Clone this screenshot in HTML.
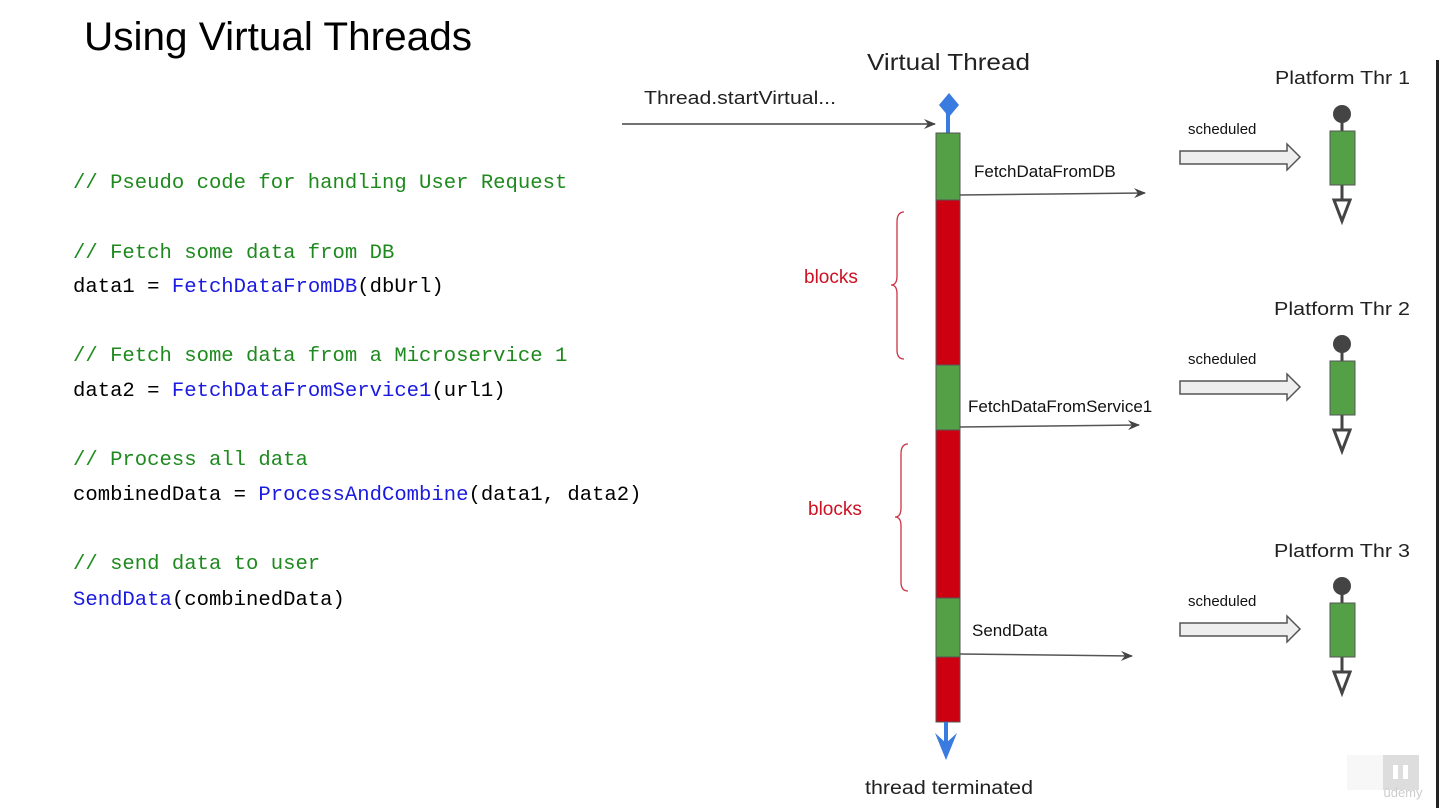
<!DOCTYPE html>
<html><head><meta charset="utf-8"><style>
html,body{margin:0;padding:0;background:#fff;width:1439px;height:808px;overflow:hidden}
</style></head><body>
<svg width="1439" height="808" xmlns="http://www.w3.org/2000/svg" font-family="Liberation Sans, sans-serif">
<defs>
<marker id="ah" markerWidth="12" markerHeight="10" refX="11" refY="5" orient="auto" markerUnits="userSpaceOnUse">
<path d="M0,0 L12,5 L0,10 L4,5 Z" fill="#444"/></marker>
</defs>
<rect x="1436" y="60" width="3" height="748" fill="#222"/>
<text x="84" y="50" font-size="40" fill="#000" textLength="388" lengthAdjust="spacingAndGlyphs">Using Virtual Threads</text>
<g font-family="Liberation Mono, monospace" font-size="20.6">
<text x="73" y="188" fill="#1e8a1e">// Pseudo code for handling User Request</text>
<text x="73" y="258" fill="#1e8a1e">// Fetch some data from DB</text>
<text x="73" y="292" fill="#000">data1 = <tspan fill="#1a1ae0">FetchDataFromDB</tspan>(dbUrl)</text>
<text x="73" y="361" fill="#1e8a1e">// Fetch some data from a Microservice 1</text>
<text x="73" y="396" fill="#000">data2 = <tspan fill="#1a1ae0">FetchDataFromService1</tspan>(url1)</text>
<text x="73" y="465" fill="#1e8a1e">// Process all data</text>
<text x="73" y="500" fill="#000">combinedData = <tspan fill="#1a1ae0">ProcessAndCombine</tspan>(data1, data2)</text>
<text x="73" y="569" fill="#1e8a1e">// send data to user</text>
<text x="73" y="605" fill="#000"><tspan fill="#1a1ae0">SendData</tspan>(combinedData)</text>
</g>
<text x="867" y="70" font-size="23" fill="#222" textLength="163" lengthAdjust="spacingAndGlyphs">Virtual Thread</text>
<text x="644" y="104" font-size="18" fill="#222" textLength="192" lengthAdjust="spacingAndGlyphs">Thread.startVirtual...</text>
<line x1="622" y1="124" x2="935" y2="124" stroke="#444" stroke-width="1.5" marker-end="url(#ah)"/>
<line x1="948" y1="110" x2="948" y2="133" stroke="#3a7be0" stroke-width="4"/>
<path d="M949,93 L959,105 L949,117 L939,105 Z" fill="#3a7be0"/>
<g stroke="#555" stroke-width="1">
<rect x="936" y="133" width="24" height="67" fill="#53a047"/>
<rect x="936" y="200" width="24" height="165" fill="#cc0011"/>
<rect x="936" y="365" width="24" height="65" fill="#53a047"/>
<rect x="936" y="430" width="24" height="168" fill="#cc0011"/>
<rect x="936" y="598" width="24" height="59" fill="#53a047"/>
<rect x="936" y="657" width="24" height="65" fill="#cc0011"/>
</g>
<line x1="946" y1="722" x2="946" y2="748" stroke="#3a7be0" stroke-width="4"/>
<path d="M935,733 L946,743 L957,733 L946,760 Z" fill="#3a7be0"/>
<text x="865" y="794" font-size="19" fill="#222" textLength="168" lengthAdjust="spacingAndGlyphs">thread terminated</text>
<text x="974" y="177" font-size="17" fill="#111">FetchDataFromDB</text>
<line x1="960" y1="195" x2="1145" y2="193" stroke="#555" stroke-width="1.5" marker-end="url(#ah)"/>
<text x="968" y="412" font-size="17" fill="#111">FetchDataFromService1</text>
<line x1="960" y1="427" x2="1139" y2="425" stroke="#555" stroke-width="1.5" marker-end="url(#ah)"/>
<text x="972" y="636" font-size="17" fill="#111">SendData</text>
<line x1="960" y1="654" x2="1132" y2="656" stroke="#555" stroke-width="1.5" marker-end="url(#ah)"/>
<text x="804" y="283" font-size="19" fill="#cc1122">blocks</text>
<text x="808" y="515" font-size="19" fill="#cc1122">blocks</text>
<path d="M904,212 Q897,212 897,222 L897,276 Q897,285 891,285 Q897,285 897,294 L897,350 Q897,359 904,359" fill="none" stroke="#cc3344" stroke-width="1.3"/>
<path d="M908,444 Q901,444 901,454 L901,508 Q901,517 895,517 Q901,517 901,526 L901,582 Q901,591 908,591" fill="none" stroke="#cc3344" stroke-width="1.3"/>
<g font-size="18" fill="#222">
<text x="1275" y="84" textLength="135" lengthAdjust="spacingAndGlyphs">Platform Thr 1</text>
<text x="1274" y="315" textLength="136" lengthAdjust="spacingAndGlyphs">Platform Thr 2</text>
<text x="1274" y="557" textLength="136" lengthAdjust="spacingAndGlyphs">Platform Thr 3</text>
</g>
<g font-size="15" fill="#111">
<text x="1188" y="134">scheduled</text>
<text x="1188" y="364">scheduled</text>
<text x="1188" y="606">scheduled</text>
</g>
<g fill="#eee" stroke="#555" stroke-width="1.5">
<path d="M1180,151 L1287,151 L1287,144 L1300,157 L1287,170 L1287,164 L1180,164 Z"/>
<path d="M1180,381 L1287,381 L1287,374 L1300,387 L1287,400 L1287,394 L1180,394 Z"/>
<path d="M1180,623 L1287,623 L1287,616 L1300,629 L1287,642 L1287,636 L1180,636 Z"/>
</g>
<g stroke="#444" stroke-width="3">
<line x1="1342" y1="114" x2="1342" y2="205"/>
<line x1="1342" y1="344" x2="1342" y2="435"/>
<line x1="1342" y1="586" x2="1342" y2="677"/>
</g>
<g fill="#444">
<circle cx="1342" cy="114" r="9"/><circle cx="1342" cy="344" r="9"/><circle cx="1342" cy="586" r="9"/>
</g>
<g fill="#53a047" stroke="#555">
<rect x="1330" y="131" width="25" height="54"/>
<rect x="1330" y="361" width="25" height="54"/>
<rect x="1330" y="603" width="25" height="54"/>
</g>
<g fill="#fff" stroke="#444" stroke-width="3">
<path d="M1334,200 L1350,200 L1342,221 Z"/>
<path d="M1334,430 L1350,430 L1342,451 Z"/>
<path d="M1334,672 L1350,672 L1342,693 Z"/>
</g>
<rect x="1347" y="755" width="36" height="35" fill="#f7f7f7"/>
<rect x="1383" y="755" width="36" height="35" fill="#ddd"/>
<rect x="1393" y="765" width="5" height="14" fill="#fff"/>
<rect x="1403" y="765" width="5" height="14" fill="#fff"/>
<text x="1403" y="797" font-size="13" fill="#ccc" text-anchor="middle">ūdemy</text>
</svg>
</body></html>
